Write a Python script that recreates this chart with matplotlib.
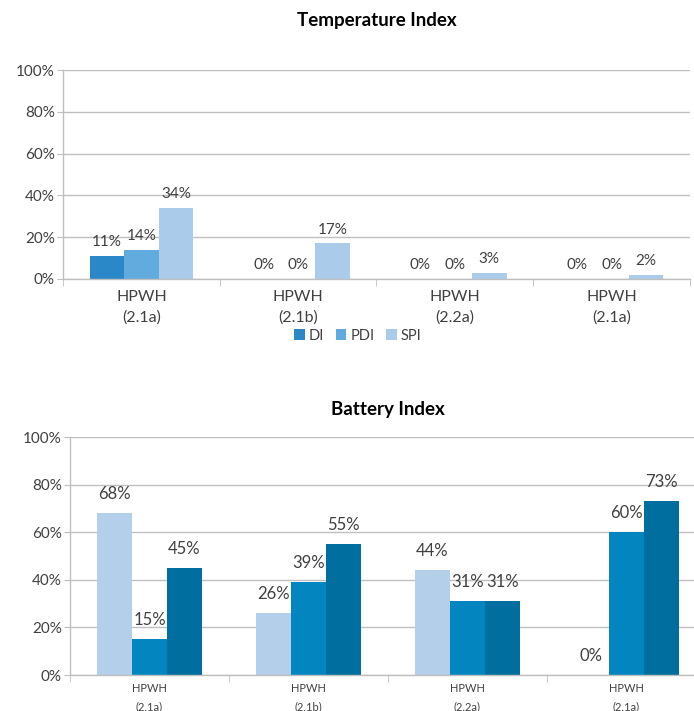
import matplotlib.pyplot as plt
import numpy as np

plt.rcParams['font.family'] = ['Lato', 'DejaVu Sans']

categories = ["HPWH\n(2.1a)", "HPWH\n(2.1b)", "HPWH\n(2.2a)", "HPWH\n(2.1a)"]

# Temperature Index
temp_series = ["DI", "PDI", "SPI"]
temp_di = [11, 0, 0, 0]
temp_pdi = [14, 0, 0, 0]
temp_spi = [34, 17, 3, 2]
temp_colors = ["#2B88C8", "#62ABDE", "#AACBEA"]

# Battery Index
batt_s1 = [68, 26, 44, 0]
batt_s2 = [15, 39, 31, 60]
batt_s3 = [45, 55, 31, 73]
batt_colors = ["#B4CFEA", "#0386C0", "#006E9E"]

yticks = [0, 20, 40, 60, 80, 100]
grid_col = "#BFBFBF"
txt_col = "#404040"


def style_axes(ax, tick_size, xlab_size, xpad, lsp):
    ax.set_ylim(0, 100)
    ax.set_xlim(-0.5, 3.5)
    ax.set_yticks(yticks)
    ax.set_yticklabels([f"{t}%" for t in yticks], fontsize=tick_size, color=txt_col)
    ax.yaxis.grid(True, color=grid_col, linewidth=1)
    ax.set_axisbelow(True)
    for s in ["top", "right"]:
        ax.spines[s].set_visible(False)
    for s in ["left", "bottom"]:
        ax.spines[s].set_color(grid_col)
        ax.spines[s].set_linewidth(1)
    ax.tick_params(axis="y", length=4, color=grid_col, pad=2)
    x = np.arange(len(categories))
    ax.set_xticks(x)
    ax.set_xticklabels(categories, fontsize=xlab_size, color=txt_col, linespacing=lsp)
    ax.tick_params(axis="x", which="major", length=0, pad=xpad)
    ax.set_xticks(np.arange(-0.5, len(categories), 1), minor=True)
    ax.tick_params(axis="x", which="minor", length=5, color=grid_col)


def draw_group(ax, series_vals, colors, labels=None, lab_size=10, off=5):
    x = np.arange(len(categories))
    w = 0.22
    n = len(series_vals)
    for i, vals in enumerate(series_vals):
        pos = x + (i - (n - 1) / 2) * w
        bars = ax.bar(pos, vals, w, color=colors[i],
                      label=labels[i] if labels else None)
        for b, v in zip(bars, vals):
            ax.annotate(f"{v}%", (b.get_x() + b.get_width() / 2, v),
                        xytext=(0, off), textcoords="offset points",
                        ha="center", va="bottom", fontsize=lab_size, color=txt_col)


fig = plt.figure(figsize=(6.94, 7.11), dpi=100)

ax1 = fig.add_axes([0.091, 0.6076, 0.903, 0.2939])
draw_group(ax1, [temp_di, temp_pdi, temp_spi], temp_colors, temp_series,
           lab_size=11, off=5)
style_axes(ax1, 11, 11.5, 8, 1.55)
ax1.set_title("Temperature Index", fontsize=13.5, fontweight="bold", pad=32)
fig.legend(loc="center", bbox_to_anchor=(0.516, 0.528), ncol=3, frameon=False,
           fontsize=10.5, handlelength=0.7, handleheight=0.7, handletextpad=0.3,
           columnspacing=0.8, labelcolor=txt_col)

ax2 = fig.add_axes([0.101, 0.0506, 0.916, 0.3344])
draw_group(ax2, [batt_s1, batt_s2, batt_s3], batt_colors, lab_size=12, off=8)
style_axes(ax2, 11, 8, 6, 1.8)
ax2.set_title("Battery Index", fontsize=13.5, fontweight="bold", pad=16)

fig.savefig("out.png", dpi=100)
plt.close(fig)
